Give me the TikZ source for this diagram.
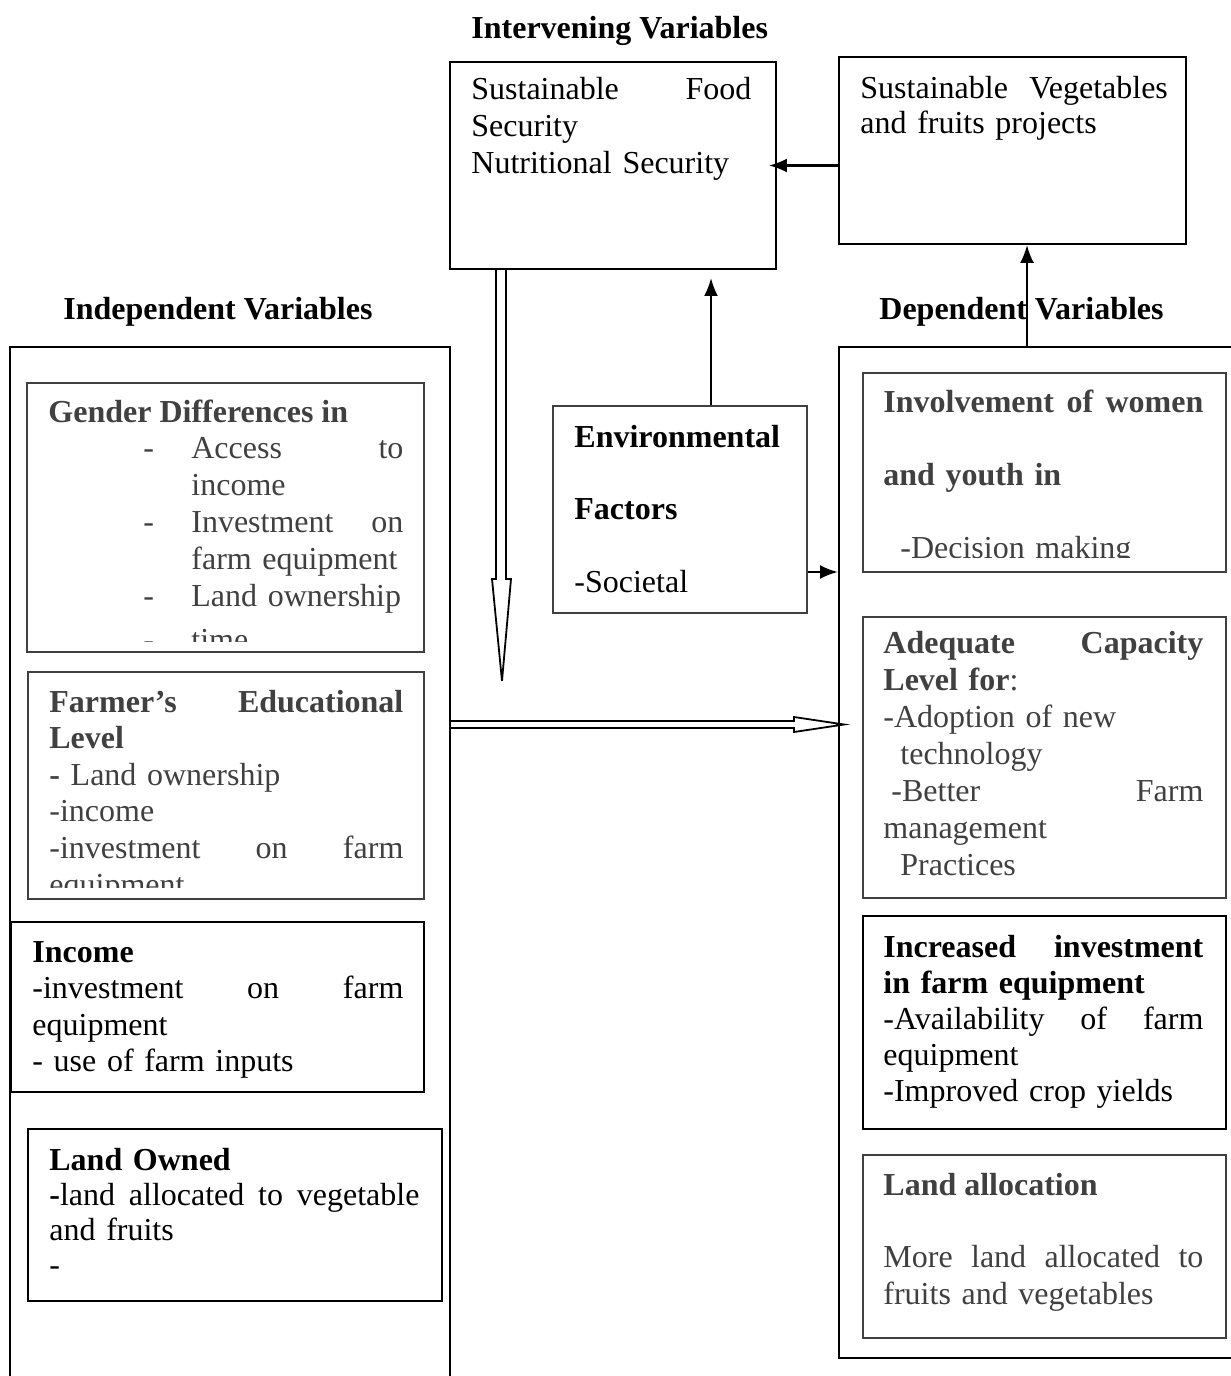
\documentclass[tikz,border=0pt]{standalone}
\usepackage{fontspec}
\setmainfont{Liberation Serif}
\usetikzlibrary{arrows.meta,fit}
\definecolor{boxgray}{HTML}{404040}
\newcommand{\gdash}{\makebox[24pt][l]{-}}
\newcommand{\gindent}{\hspace*{24pt}}

\begin{document}
\begin{tikzpicture}[x=0.5pt,y=-0.5pt,
    txt/.style={anchor=base west, inner sep=0pt, align=left, font=\fontsize{16}{18.5}\selectfont},
    heading/.style={txt, font=\fontsize{16}{18.5}\selectfont\bfseries},
    frame/.style={draw, line width=0.9pt, inner sep=0pt},
    softframe/.style={draw=boxgray, line width=0.8pt, inner sep=0pt},
    hardframe/.style={draw, line width=1.2pt, inner sep=0pt},
    conn/.style={line width=1.2pt, -{Latex[length=9pt,width=7pt]}},
    hollow/.style={line width=0.9pt}]
\useasboundingbox (0,0) rectangle (1231,1376);

% titles
\node[heading] (intervtitle) at (471,39) {Intervening Variables};
\node[heading] (indeptitle) at (63,319) {Independent Variables};
\node[heading] (deptitle) at (879,319) {Dependent Variables};

% intervening boxes
\node[frame, fit={(450,62) (776,269)}] (foodbox) {};
\node[txt, text width=140pt] (foodtext) at (471,99) {Sustainable\hfill Food\\Security\\Nutritional Security};
\node[frame, fit={(839,57) (1186,244)}] (vegbox) {};
\node[txt, text width=160pt, font=\fontsize{16}{17.5}\selectfont] (vegtext) at (860,98) {Sustainable\ \ Vegetables\\and fruits projects};

% independent variables
\node[draw, line width=1pt, inner sep=0pt, fit={(10,347) (450,1400)}] (leftbig) {};
\node[softframe, fit={(27,383) (424,652)}] (genderbox) {};
\begin{scope}
  \clip (27,383) rectangle (424,641);
  \node[heading, text=boxgray] (genderhead) at (48,422) {Gender Differences in};
  \node[txt, text=boxgray, text width=130pt] (genderlist) at (143,458)
    {\gdash Access\hfill to\\\gindent income\\\gdash Investment\hfill on\\\gindent farm equipment\\\gdash Land ownership\\[3.5pt]\gdash time};
\end{scope}
\node[softframe, fit={(28,672) (424,899)}] (farmerbox) {};
\begin{scope}
  \clip (28,672) rectangle (424,887);
  \node[txt, text=boxgray, text width=177pt, font=\fontsize{16}{18.3}\selectfont] (farmertext) at (49,712)
    {\textbf{Farmer’s\hfill Educational}\\\textbf{Level}\\\textbf{-} Land ownership\\-income\\-investment\hfill on\hfill farm\\equipment};
\end{scope}
\node[hardframe, fit={(11,922) (424,1092)}] (incomebox) {};
\node[txt, text width=185.5pt, font=\fontsize{16}{18.3}\selectfont] (incometext) at (32,962)
  {\textbf{Income}\\-investment\hfill on\hfill farm\\equipment\\- use of farm inputs};
\node[hardframe, fit={(28,1129) (442,1301)}] (landbox) {};
\node[txt, text width=185pt, font=\fontsize{16}{17.6}\selectfont] (landtext) at (49,1170)
  {\textbf{Land Owned}\\\textbf{-}land\hfill allocated\hfill to\hfill vegetable\\and fruits\\-};

% environmental factors
\node[draw=boxgray, line width=1pt, inner sep=0pt, fit={(553,406) (807,613)}] (envbox) {};
\node[txt, text width=110pt, font=\fontsize{16}{36.3}\selectfont] (envtext) at (574,447)
  {\textbf{Environmental}\\\textbf{Factors}\\-Societal};

% dependent variables
\node[draw, line width=1pt, inner sep=0pt, fit={(839,347) (1245,1358)}] (rightbig) {};
\node[softframe, fit={(863,373) (1226,572)}] (involvebox) {};
\begin{scope}
  \clip (863,373) rectangle (1226,557);
  \node[txt, text=boxgray, text width=160pt, font=\fontsize{16}{36.5}\selectfont] (involvetext) at (883,412)
    {\textbf{Involvement\hfill of\hfill women}\\\textbf{and youth in}\\\hspace*{8.5pt}-Decision making};
\end{scope}
\node[softframe, fit={(863,617) (1226,898)}] (adequatebox) {};
\node[txt, text=boxgray, text width=160pt] (adequatetext) at (883,653)
  {\textbf{Adequate\hfill Capacity}\\\textbf{Level for}:\\-Adoption of new\\\hspace*{8.5pt}technology\\\hspace*{4pt}-Better\hfill Farm\\management\\\hspace*{8.5pt}Practices};
\node[hardframe, fit={(863,916) (1226,1129)}] (investbox) {};
\node[txt, text width=160pt, font=\fontsize{16}{18.1}\selectfont] (investtext) at (883,957)
  {\textbf{Increased\hfill investment}\\\textbf{in farm equipment}\\-Availability\hfill of\hfill farm\\equipment\\-Improved crop yields};
\node[softframe, fit={(863,1155) (1226,1338)}] (allocbox) {};
\node[heading, text=boxgray] (allochead) at (883,1195) {Land allocation};
\node[txt, text=boxgray, text width=160pt] (alloctext) at (883,1267)
  {More\hfill land\hfill allocated\hfill to\\fruits and vegetables};

% connectors
\coordinate (vegx) at (1027,0);
\coordinate (envx) at (711,0);
\coordinate (envy) at (0,572);
\coordinate (downx) at (501,0);
\coordinate (acrossy) at (0,724.5);
\draw[conn, shorten >=-4pt] (vegbox.west |- foodbox.east) -- (foodbox.east);
\draw[conn] (vegx |- rightbig.north) -- (vegx |- vegbox.south);
\draw[conn, shorten >=4pt] (envx |- envbox.north) -- (envx |- foodbox.south);
\draw[conn] (envbox.east |- envy) -- (rightbig.west |- envy);
\draw[hollow] (downx |- foodbox.south) ++(-5,0) -- ++(0,309) -- ++(-4,0) -- ++(10,102)
  -- ++(9,-102) -- ++(-5,0) -- ++(0,-309);
\draw[hollow] (leftbig.east |- acrossy) ++(0,-3.5) -- ++(343,0) -- ++(0,-4) -- ++(50,7.5)
  -- ++(-50,7.5) -- ++(0,-4) -- ++(-343,0);
\end{tikzpicture}
\end{document}
